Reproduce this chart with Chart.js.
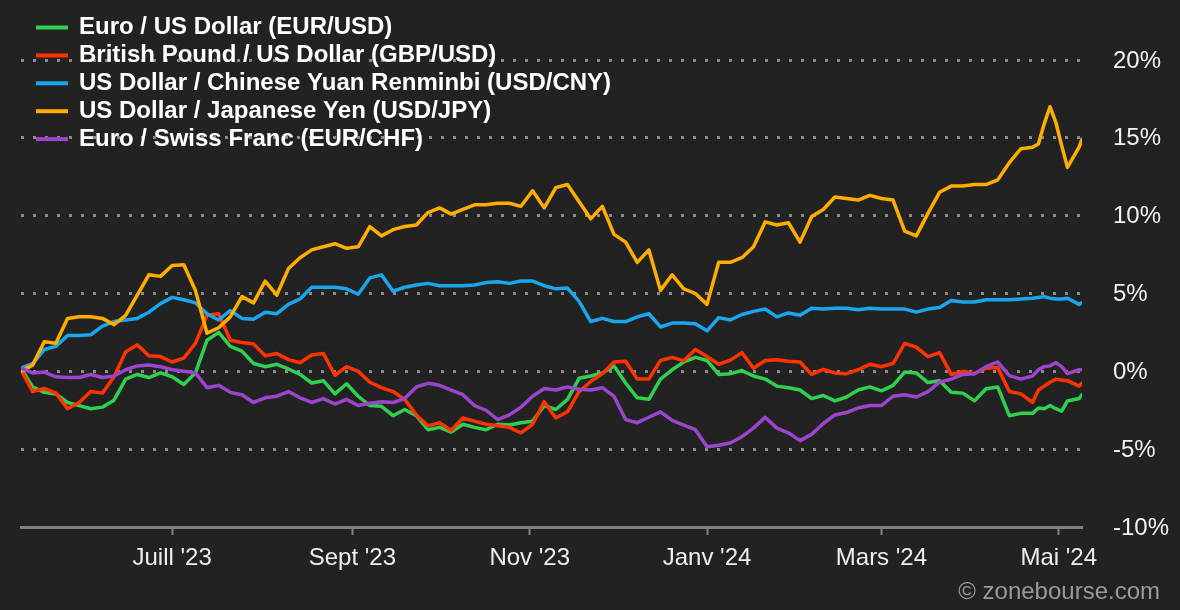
<!DOCTYPE html>
<html lang="fr">
<head>
<meta charset="utf-8">
<title>Devises - 1 an</title>
<script src="https://cdn.jsdelivr.net/npm/chart.js@4.4.1/dist/chart.umd.min.js"></script>
<style>
  html, body { margin: 0; padding: 0; background: #222222; }
  #wrap { width: 1180px; height: 610px; }
</style>
</head>
<body>
<div id="wrap"><canvas id="fxChart" width="1180" height="610"></canvas></div>
<script>
// days counted from 10 May 2023
const days = [
    0, 4, 8, 12, 16, 20, 24, 28, 32, 36,
    40, 44, 48, 52, 56, 60, 64, 68, 72, 76,
    80, 84, 88, 92, 96, 100, 104, 108, 112, 116,
    120, 124, 128, 132, 136, 140, 144, 148, 152, 156,
    160, 164, 168, 172, 176, 180, 184, 188, 192, 196,
    200, 204, 208, 212, 216, 220, 224, 228, 232, 236,
    240, 244, 248, 252, 256, 260, 264, 268, 272, 276,
    280, 284, 288, 292, 296, 300, 304, 308, 312, 316,
    320, 324, 328, 332, 336, 340, 344, 348, 350, 352,
    354, 356, 358, 360, 364, 365
];

const tickDays = [52, 114, 175, 236, 296, 357];
const tickLabels = ["Juill '23", "Sept '23", "Nov '23", "Janv '24", "Mars '24", "Mai '24"];

const seriesNames = [
    'Euro / US Dollar (EUR/USD)',
    'British Pound / US Dollar (GBP/USD)',
    'US Dollar / Chinese Yuan Renminbi (USD/CNY)',
    'US Dollar / Japanese Yen (USD/JPY)',
    'Euro / Swiss Franc (EUR/CHF)'
];
const seriesColors = ['#2fcf4f', '#ff3300', '#1aa6ec', '#ffad00', '#9a45cc'];

// % change since start
const eurUsd = [
    0.2, -1.0, -1.35, -1.45, -2.0, -2.2, -2.4, -2.3, -1.85, -0.5,
    -0.2, -0.4, -0.1, -0.35, -0.85, -0.1, 2.0, 2.5, 1.6, 1.3,
    0.5, 0.3, 0.45, 0.15, -0.2, -0.75, -0.6, -1.45, -0.8, -1.6,
    -2.2, -2.25, -2.85, -2.45, -2.85, -3.75, -3.6, -3.9, -3.4, -3.6,
    -3.75, -3.4, -3.45, -3.3, -3.2, -2.2, -2.45, -1.8, -0.45, -0.3,
    -0.1, 0.35, -0.75, -1.7, -1.8, -0.5, 0.1, 0.6, 0.9, 0.7,
    -0.2, -0.15, 0.05, -0.3, -0.5, -0.95, -1.05, -1.2, -1.75, -1.55,
    -1.9, -1.65, -1.2, -1.0, -1.25, -0.9, -0.05, -0.1, -0.72, -0.6,
    -1.35, -1.4, -1.9, -1.12, -1.0, -2.85, -2.7, -2.7, -2.35, -2.4,
    -2.2, -2.4, -2.55, -1.9, -1.75, -1.5
];
const gbpUsd = [
    0.1, -1.3, -1.1, -1.4, -2.4, -2.0, -1.3, -1.4, -0.35, 1.25,
    1.7, 1.0, 0.95, 0.6, 0.85, 1.8, 3.6, 3.7, 2.0, 1.85,
    1.75, 1.0, 1.15, 0.75, 0.55, 1.05, 1.15, -0.25, 0.3, 0.0,
    -0.7, -1.05, -1.3, -1.8, -2.8, -3.5, -3.3, -3.8, -3.0, -3.2,
    -3.4, -3.5, -3.6, -3.95, -3.4, -1.95, -3.0, -2.6, -1.3, -0.65,
    -0.15, 0.6, 0.65, -0.5, -0.5, 0.7, 0.9, 0.68, 1.4, 0.95,
    0.45, 0.72, 1.2, 0.2, 0.7, 0.75, 0.65, 0.6, -0.2, 0.12,
    -0.1, -0.15, 0.1, 0.45, 0.3, 0.5, 1.8, 1.55, 0.95, 1.2,
    -0.2, 0.0, -0.15, 0.2, 0.25, -1.3, -1.45, -2.0, -1.2, -0.95,
    -0.7, -0.5, -0.55, -0.6, -0.95, -0.75
];
const usdCny = [
    0.2, 0.5, 1.4, 1.6, 2.3, 2.3, 2.35, 2.9, 3.2, 3.3,
    3.4, 3.8, 4.35, 4.75, 4.6, 4.4, 3.7, 3.3, 3.9, 3.4,
    3.35, 3.8, 3.7, 4.3, 4.65, 5.4, 5.4, 5.4, 5.3, 4.95,
    6.0, 6.2, 5.15, 5.4, 5.55, 5.65, 5.5, 5.5, 5.5, 5.55,
    5.7, 5.75, 5.65, 5.8, 5.8, 5.5, 5.3, 5.35, 4.5, 3.2,
    3.4, 3.2, 3.2, 3.5, 3.7, 2.85, 3.1, 3.1, 3.05, 2.6,
    3.45, 3.3, 3.65, 3.85, 4.0, 3.5, 3.75, 3.6, 4.05, 4.0,
    4.05, 4.05, 3.95, 4.05, 4.0, 4.0, 4.0, 3.8, 4.0, 4.1,
    4.55, 4.45, 4.45, 4.6, 4.6, 4.6, 4.65, 4.7, 4.75, 4.8,
    4.7, 4.65, 4.65, 4.7, 4.3, 4.4
];
const usdJpy = [
    0.0, 0.4, 1.9, 1.8, 3.4, 3.5, 3.5, 3.4, 3.0, 3.6,
    4.9, 6.2, 6.1, 6.8, 6.85, 5.2, 2.45, 2.8, 3.5, 4.8,
    4.4, 5.8, 4.9, 6.6, 7.3, 7.8, 8.0, 8.2, 7.9, 8.0,
    9.3, 8.7, 9.1, 9.3, 9.4, 10.2, 10.5, 10.1, 10.4, 10.7,
    10.7, 10.8, 10.8, 10.6, 11.6, 10.5, 11.8, 12.0, 10.9, 9.8,
    10.6, 8.8, 8.3, 7.0, 7.8, 5.2, 6.2, 5.3, 5.0, 4.3,
    7.0, 7.0, 7.3, 8.0, 9.6, 9.4, 9.55, 8.3, 9.95, 10.4,
    11.2, 11.1, 11.0, 11.3, 11.1, 11.0, 9.0, 8.7, 10.15, 11.5,
    11.9, 11.9, 12.0, 12.0, 12.3, 13.4, 14.3, 14.4, 14.6, 15.9,
    17.0, 16.0, 14.5, 13.1, 14.4, 14.9
];
const eurChf = [
    0.2, -0.1, -0.05, -0.35, -0.4, -0.4, -0.2, -0.4, -0.3, 0.1,
    0.35, 0.4, 0.3, 0.1, 0.0, -0.1, -1.05, -0.9, -1.35, -1.5,
    -2.0, -1.7, -1.6, -1.3, -1.7, -2.0, -1.75, -2.1, -1.8, -2.2,
    -2.05, -1.95, -2.0, -1.75, -1.0, -0.77, -0.9, -1.2, -1.5, -2.2,
    -2.5, -3.1, -2.8, -2.3, -1.6, -1.1, -1.2, -1.0, -1.15, -1.2,
    -1.05, -1.6, -3.1, -3.3, -2.95, -2.6, -3.15, -3.45, -3.75, -4.85,
    -4.75, -4.6, -4.2, -3.65, -2.95, -3.65, -3.95, -4.45, -4.05, -3.35,
    -2.8, -2.65, -2.35, -2.2, -2.2, -1.6, -1.5, -1.65, -1.3, -0.7,
    -0.5, -0.2, -0.15, 0.3, 0.6, -0.28, -0.5, -0.3, 0.1, 0.3,
    0.35, 0.55, 0.3, -0.15, 0.1, 0.1
];

const FONT = '"Liberation Sans", Arial, sans-serif';

function toPoints(values) {
    return days.map((d, i) => ({ x: d, y: values[i] }));
}

// legend in the top-left corner + watermark
const overlayPlugin = {
    id: 'overlay',
    afterDraw(chart) {
        const ctx = chart.ctx;
        ctx.save();
        ctx.font = 'bold 24px ' + FONT;
        ctx.textBaseline = 'middle';
        ctx.textAlign = 'left';
        chart.data.datasets.forEach((ds, i) => {
            const y = 27.5 + i * 27.9;
            ctx.strokeStyle = ds.borderColor;
            ctx.lineWidth = 4;
            ctx.beginPath();
            ctx.moveTo(36, y);
            ctx.lineTo(68, y);
            ctx.stroke();
            ctx.fillStyle = '#ffffff';
            ctx.fillText(ds.label, 79, y);
        });
        ctx.font = '24px ' + FONT;
        ctx.fillStyle = '#9a9a9a';
        ctx.textAlign = 'right';
        ctx.fillText('\u00a9 zonebourse.com', 1160, 592);
        ctx.restore();
    }
};

const allSeries = [eurUsd, gbpUsd, usdCny, usdJpy, eurChf];

new Chart(document.getElementById('fxChart'), {
    type: 'line',
    data: {
        datasets: allSeries.map((values, i) => ({
            label: seriesNames[i],
            data: toPoints(values),
            borderColor: seriesColors[i],
            borderWidth: 3.5,
            pointRadius: 0,
            tension: 0,
            borderJoinStyle: 'round',
            borderCapStyle: 'round',
            fill: false,
            order: allSeries.length - i
        }))
    },
    options: {
        responsive: false,
        animation: false,
        devicePixelRatio: 1,
        layout: { padding: { left: 21, top: 60, right: 0, bottom: 0 } },
        plugins: {
            legend: { display: false },
            tooltip: { enabled: false }
        },
        scales: {
            x: {
                type: 'linear',
                min: 0,
                max: 365,
                afterBuildTicks: axis => {
                    axis.ticks = tickDays.map(v => ({ value: v }));
                },
                afterFit: axis => { axis.height = 83; },
                ticks: {
                    autoSkip: false,
                    maxRotation: 0,
                    padding: 9,
                    color: '#eeeeee',
                    font: { family: FONT, size: 24 },
                    callback: (v, i) => tickLabels[i]
                },
                grid: {
                    drawOnChartArea: false,
                    drawTicks: true,
                    tickLength: 8,
                    tickWidth: 2,
                    tickColor: '#808080',
                    color: '#808080'
                },
                border: { display: true, color: '#808080', width: 3 }
            },
            y: {
                position: 'right',
                min: -10,
                max: 20,
                afterFit: axis => { axis.width = 98; },
                ticks: {
                    stepSize: 5,
                    padding: 31,
                    labelOffset: 1,
                    color: '#f2f2f2',
                    font: { family: FONT, size: 24 },
                    callback: v => v + '%'
                },
                grid: {
                    drawTicks: false,
                    lineWidth: 3,
                    color: ctx => (ctx.tick && ctx.tick.value === -10) ? 'rgba(0,0,0,0)' : '#8a8a8a'
                },
                border: { display: false, dash: [3, 9] }
            }
        }
    },
    plugins: [overlayPlugin]
});
</script>
</body>
</html>
